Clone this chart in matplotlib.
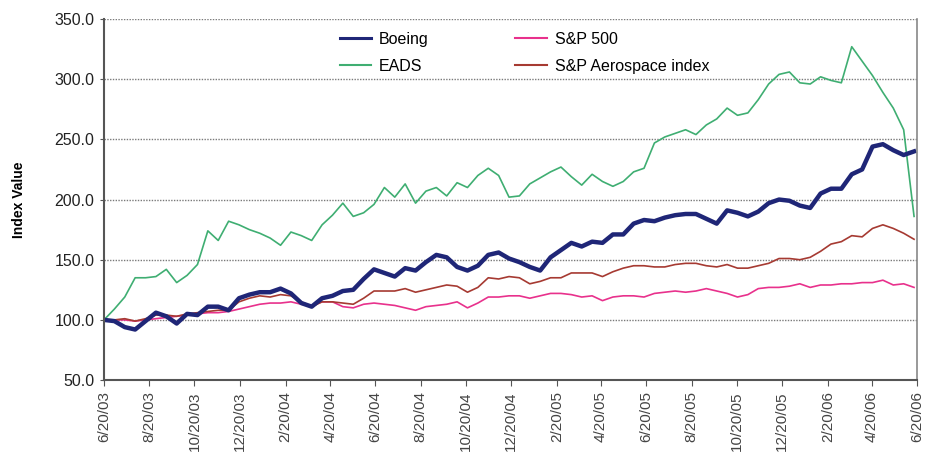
import numpy as np
import pandas as pd
import matplotlib
matplotlib.use("Agg")
import matplotlib.pyplot as plt

plt.rcParams['font.family'] = ['Liberation Sans', 'DejaVu Sans']

# biweekly index values, 6/20/03 = 100
dates = pd.date_range('2003-06-20', periods=79, freq='14D')

boeing = [100, 99, 94, 92, 99, 106, 103, 97, 105, 104,
          111, 111, 108, 118, 121, 123, 123, 126, 122, 114,
          111, 118, 120, 124, 125, 134, 142, 139, 136, 143,
          141, 148, 154, 152, 144, 141, 145, 154, 156, 151,
          148, 144, 141, 152, 158, 164, 161, 165, 164, 171,
          171, 180, 183, 182, 185, 187, 188, 188, 184, 180,
          191, 189, 186, 190, 197, 200, 199, 195, 193, 205,
          209, 209, 221, 225, 244, 246, 241, 237, 240]

eads = [100, 109, 119, 135, 135, 136, 142, 131, 137, 146,
        174, 166, 182, 179, 175, 172, 168, 162, 173, 170,
        166, 179, 187, 197, 186, 189, 196, 210, 202, 213,
        197, 207, 210, 203, 214, 210, 220, 226, 220, 202,
        203, 213, 218, 223, 227, 219, 212, 221, 215, 211,
        215, 223, 226, 247, 252, 255, 258, 254, 262, 267,
        276, 270, 272, 283, 296, 304, 306, 297, 296, 302,
        299, 297, 327, 315, 303, 289, 276, 258, 186]

sp500 = [100, 100, 100, 99, 100, 101, 102, 103, 104, 105,
         106, 106, 107, 109, 111, 113, 114, 114, 115, 113,
         112, 115, 115, 111, 110, 113, 114, 113, 112, 110,
         108, 111, 112, 113, 115, 110, 114, 119, 119, 120,
         120, 118, 120, 122, 122, 121, 119, 120, 116, 119,
         120, 120, 119, 122, 123, 124, 123, 124, 126, 124,
         122, 119, 121, 126, 127, 127, 128, 130, 127, 129,
         129, 130, 130, 131, 131, 133, 129, 130, 127]

sp_aero = [100, 100, 101, 99, 101, 104, 104, 103, 105, 106,
           107, 108, 108, 115, 118, 120, 119, 121, 120, 115,
           111, 115, 115, 114, 113, 118, 124, 124, 124, 126,
           123, 125, 127, 129, 128, 123, 127, 135, 134, 136,
           135, 130, 132, 135, 135, 139, 139, 139, 136, 140,
           143, 145, 145, 144, 144, 146, 147, 147, 145, 144,
           146, 143, 143, 145, 147, 151, 151, 150, 152, 157,
           163, 165, 170, 169, 176, 179, 176, 172, 167]

tick_labels = ['6/20/03', '8/20/03', '10/20/03', '12/20/03', '2/20/04',
               '4/20/04', '6/20/04', '8/20/04', '10/20/04', '12/20/04',
               '2/20/05', '4/20/05', '6/20/05', '8/20/05', '10/20/05',
               '12/20/05', '2/20/06', '4/20/06', '6/20/06']
tick_dates = pd.to_datetime(tick_labels, format='%m/%d/%y')

fig = plt.figure(figsize=(9.26, 4.53), dpi=100)
ax = fig.add_axes([0.1123, 0.161, 0.878, 0.797])

l_sp, = ax.plot(dates, sp500, color='#e8318c', lw=1.2, label='S&P 500')
l_aero, = ax.plot(dates, sp_aero, color='#a63a32', lw=1.2, label='S&P Aerospace index')
l_eads, = ax.plot(dates, eads, color='#3fae72', lw=1.2, label='EADS')
l_boe, = ax.plot(dates, boeing, color='#1f2677', lw=3.2, label='Boeing')

ax.set_ylim(50, 350)
ax.set_yticks(np.arange(50, 351, 50))
ax.set_yticklabels([f'{v:.1f}' for v in np.arange(50, 351, 50)])
ax.set_xlim(tick_dates[0], tick_dates[-1])
ax.set_xticks(tick_dates)
ax.set_xticklabels(tick_labels, rotation=90, va='top', ha='center')

ax.grid(axis='y', color='#7a7a7a', linestyle=(0, (1, 1)), linewidth=1)
ax.set_axisbelow(True)
ax.tick_params(axis='x', length=4, color='#555555', labelsize=11, labelcolor='#444444', pad=4)
ax.tick_params(axis='y', length=3, color='#555555', labelsize=11.5, labelcolor='#222222', pad=4)

for side in ['left', 'bottom']:
    ax.spines[side].set_color('#555555')
    ax.spines[side].set_linewidth(1.5)
ax.spines['top'].set_visible(False)
ax.spines['right'].set_color('#888888')
ax.spines['right'].set_linewidth(1.2)

ax.set_ylabel('Index Value', fontsize=10, fontweight='bold', labelpad=20)

ax.legend(handles=[l_boe, l_eads, l_sp, l_aero], ncol=2, frameon=False,
          loc='upper left', bbox_to_anchor=(0.272, 1.005), fontsize=11.5,
          handlelength=2.0, handletextpad=0.45, columnspacing=5.45,
          labelspacing=0.75)
# thinner handles like the original key
leg = ax.get_legend()
for h in leg.legend_handles:
    h.set_linewidth(2.2 if h.get_label() == 'Boeing' else 1.5)

fig.savefig('out.png', dpi=100)
